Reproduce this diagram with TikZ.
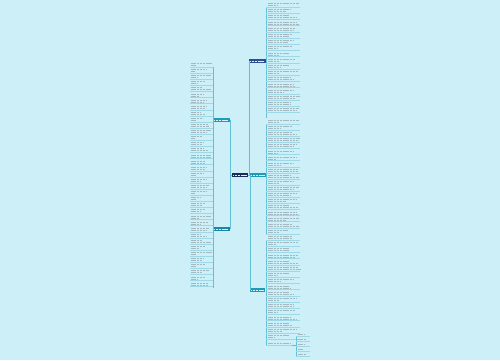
\documentclass[tikz,border=0pt]{standalone}
\definecolor{bg}{HTML}{CCEFF8}
\definecolor{navy}{HTML}{1B2B5B}
\definecolor{dblue}{HTML}{2E4F8F}
\definecolor{tealc}{HTML}{1E9BB8}
\definecolor{linec}{HTML}{62C0D6}
\definecolor{ulc}{HTML}{9ED8E6}
\definecolor{txt}{HTML}{A6B8BF}
\begin{document}
\begin{tikzpicture}[x=1pt,y=-1pt,
  conn/.style={draw=linec, line width=0.6pt},
  uline/.style={draw=ulc, line width=0.35pt},
  txtline/.style={draw=txt, line width=0.65pt, dash pattern=on 1.1pt off 0.35pt},
  topic/.style={inner sep=0pt, minimum height=4.5pt, minimum width=#1}]
\pgfmathsetseed{7}
\fill[bg] (0,0) rectangle (500,360);
\useasboundingbox (0,0) rectangle (500,360);
% main nodes
\node[topic=16pt, fill=navy] (c) at (240,175) {};
\node[topic=17pt, fill=dblue] (r1) at (257.5,61) {};
\node[topic=17pt, fill=tealc] (r2) at (258.5,175) {};
\node[topic=15pt, fill=tealc] (r3) at (257.5,290) {};
\node[topic=17pt, fill=tealc] (l1) at (221.5,120) {};
\node[topic=17pt, fill=tealc!80!navy] (l2) at (221.5,229) {};
% labels as light bars
\foreach \n in {c,r1,r2,r3,l1,l2}{
  \draw[white!85!tealc, line width=0.7pt, dash pattern=on 1.1pt off 0.35pt] ([xshift=1.5pt]\n.west) -- ([xshift=-1.5pt]\n.east);
}
% connectors
\draw[conn] (c.west) -| (l1.east);
\draw[conn] (c.west) -| (l2.east);
\draw[conn] (c.east) -- (r2.west);
\draw[conn] (c.east) -| (r1.west);
\draw[conn] (c.east) -| (r3.west);
% right column brackets
\coordinate (rb1t) at (266,7); \coordinate (rb1b) at (266,118);
\coordinate (rb2t) at (266,124); \coordinate (rb2b) at (266,234);
\coordinate (rb3t) at (266,240); \coordinate (rb3b) at (266,345);
\draw[conn] (rb1t) -- (rb1b);
\draw[conn] (rb2t) -- (rb2b);
\draw[conn] (rb3t) -- (rb3b);
% right items
\foreach \y in {7,13.2,...,118,124,130.1,...,234,240,246.2,...,340}{
  \pgfmathsetmacro{\la}{288+12*rnd}
  \pgfmathsetmacro{\lb}{274+26*rnd}
  \draw[uline] (266,\y) -- (300,\y);
  \draw[txtline] (268,\y-3.6) -- (\la,\y-3.6);
  \draw[txtline] (268,\y-1.6) -- (\lb,\y-1.6);
}
% bottom special item with sub-branch
\coordinate (sp) at (292,345);
\coordinate (sb) at (296,345);
\draw[uline] (266,345) -- (sp);
\draw[txtline] (268,343.4) -- (290,343.4);
\draw[conn] (sp) -- (sb);
\draw[conn] (296,336) -- (296,356);
\foreach \y in {336,341,346,351,356}{
  \pgfmathsetmacro{\la}{303+6*rnd}
  \draw[uline] (296,\y) -- (310,\y);
  \draw[txtline] (298,\y-1.6) -- (\la,\y-1.6);
}
% left column
\coordinate (lbt) at (213,67); \coordinate (lbb) at (213,288);
\draw[conn] (lbt) -- (lbb);
\draw[conn] (l1.west) -- (213,120);
\draw[conn] (l2.west) -- (213,229);
\foreach \y in {67,73.1,...,288}{
  \pgfmathsetmacro{\la}{200+12*rnd}
  \pgfmathsetmacro{\lb}{194+18*rnd}
  \draw[uline] (190,\y) -- (213,\y);
  \draw[txtline] (191,\y-3.6) -- (\la,\y-3.6);
  \draw[txtline] (191,\y-1.6) -- (\lb,\y-1.6);
}
\end{tikzpicture}
\end{document}
